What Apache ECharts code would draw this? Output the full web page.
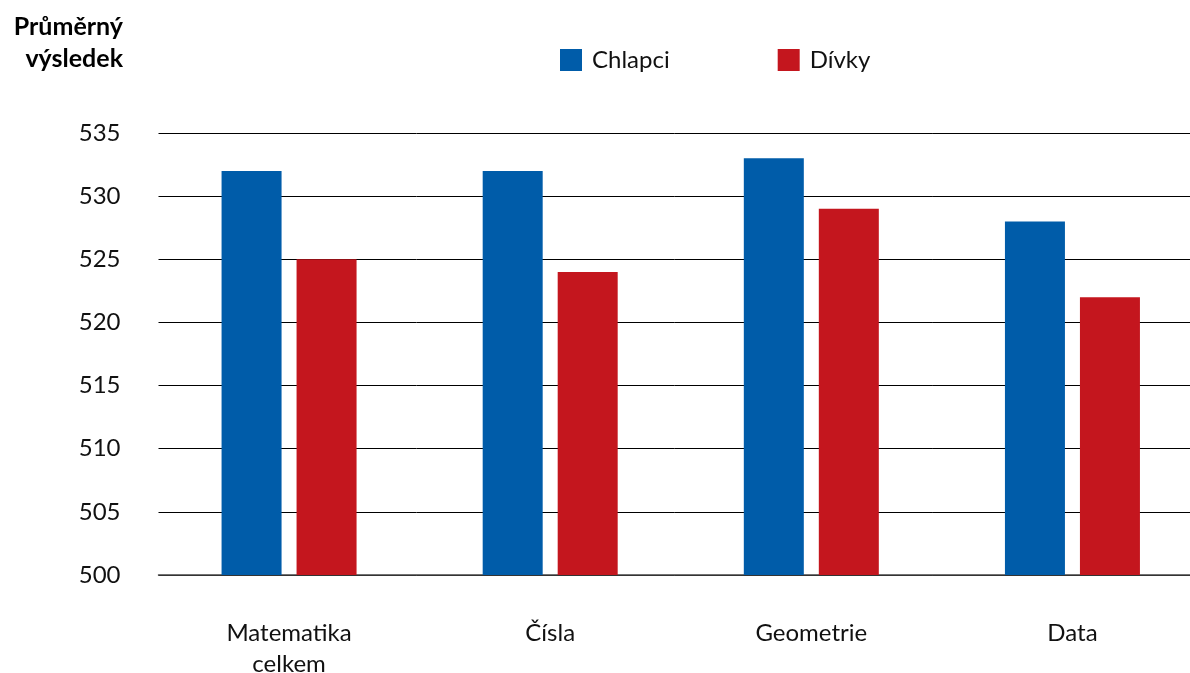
<!DOCTYPE html>
<html>
<head>
<meta charset="utf-8">
<script src="https://cdn.jsdelivr.net/npm/echarts@6/dist/echarts.min.js"></script>
<style>
html,body{margin:0;padding:0;background:#fff;}
#chart{width:1190px;height:673px;}
</style>
</head>
<body>
<div id="chart"></div>
<script>
const categories = ['Matematika\ncelkem', 'Čísla', 'Geometrie', 'Data'];
const chlapci = [532, 532, 533, 528];
const divky = [525, 524, 529, 522];
const seriesNames = ['Chlapci', 'Dívky'];
const yTitle = 'Průměrný\nvýsledek';
const yMin = 500, yMax = 535, yStep = 5;

const FONT = 'Lato';
const chart = echarts.init(document.getElementById('chart'));
chart.setOption({
  animation: false,
  backgroundColor: '#fff',
  graphic: [{
    type: 'text',
    x: 123, y: 11,
    style: {
      text: yTitle, fontFamily: FONT, fontWeight: 'bold', fontSize: 25,
      lineHeight: 32, fill: '#000', textAlign: 'right', align: 'right'
    }
  }],
  legend: {
    data: seriesNames,
    left: 560,
    top: 48,
    padding: 0,
    itemWidth: 22,
    itemHeight: 22,
    itemGap: 108,
    icon: 'rect',
    textStyle: { fontFamily: FONT, fontSize: 24, color: '#111', padding: [0, 0, 0, 5] }
  },
  grid: { left: 158.5, width: 1044.5, top: 133, bottom: 98, outerBoundsMode: 'none', containLabel: false },
  xAxis: {
    type: 'category',
    data: categories,
    axisLine: { show: true, lineStyle: { color: '#444', width: 1.5 } },
    axisTick: { show: false },
    axisLabel: { fontFamily: FONT, fontSize: 24, color: '#111', margin: 43, lineHeight: 31 }
  },
  yAxis: {
    type: 'value',
    min: yMin, max: yMax, interval: yStep,
    axisLine: { show: false },
    axisTick: { show: false },
    splitLine: { lineStyle: { color: '#000', width: 1 } },
    axisLabel: { fontFamily: FONT, fontSize: 24, color: '#111', margin: 38 }
  },
  series: [
    { name: seriesNames[0], type: 'bar', data: chlapci, barWidth: 60, barGap: '25%',
      itemStyle: { color: '#005CA9' } },
    { name: seriesNames[1], type: 'bar', data: divky, barWidth: 60, barGap: '25%',
      itemStyle: { color: '#C4161E' } }
  ]
});
</script>
</body>
</html>
